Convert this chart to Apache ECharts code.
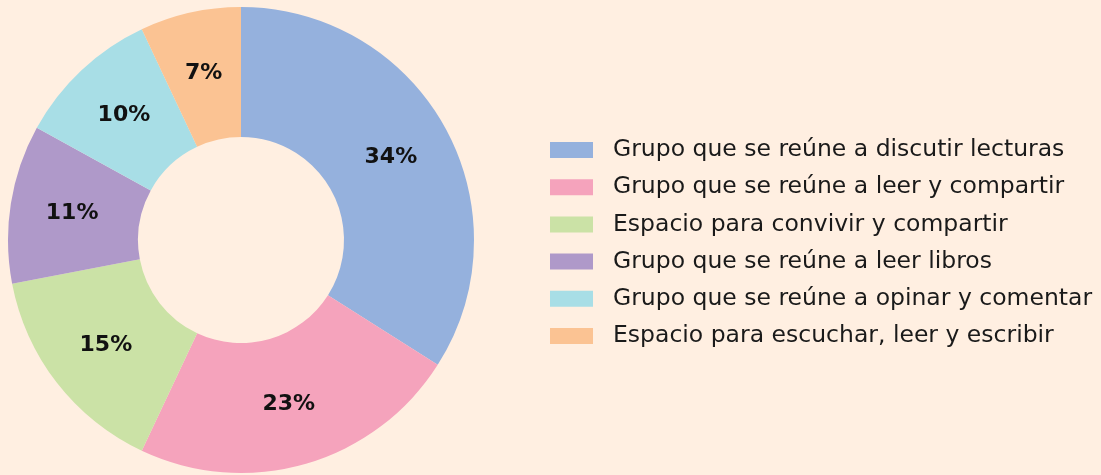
<!DOCTYPE html>
<html lang="es">
  <head>
    <meta charset="UTF-8" />
    <title>Donut</title>
    <script src="https://cdn.jsdelivr.net/npm/echarts@6.0.0/dist/echarts.min.js"></script>
    <style>
      html, body { margin: 0; padding: 0; background: #ffefe1; }
      #main { width: 1101px; height: 475px; }
    </style>
  </head>
  <body>
    <div id="main"></div>
    <script>
      // chart data
      let categories = [
        "Grupo que se reúne a discutir lecturas",
        "Grupo que se reúne a leer y compartir",
        "Espacio para convivir y compartir",
        "Grupo que se reúne a leer libros",
        "Grupo que se reúne a opinar y comentar",
        "Espacio para escuchar, leer y escribir",
      ];
      let values = [34, 23, 15, 11, 10, 7];
      let colors = ["#95b1dd", "#f5a3bc", "#cbe2a6", "#af99c9", "#a8dee6", "#fbc393"];

      let myChart = echarts.init(document.getElementById("main"));

      let options = {
        backgroundColor: "#ffefe1",
        animation: false,
        color: colors,
        legend: {
          orient: "vertical",
          left: 545,
          top: 133,
          itemWidth: 43,
          itemHeight: 16,
          itemGap: 13.2,
          icon: "rect",
          textStyle: {
            fontFamily: "DejaVu Sans",
            fontSize: 23.5,
            lineHeight: 22,
            color: "#1a1a1a",
            padding: [0, 0, 0, 15],
          },
          data: categories,
        },
        series: [
          {
            type: "pie",
            center: [241, 240],
            radius: [103, 233],
            startAngle: 90,
            clockwise: true,
            silent: true,
            label: {
              position: "inside",
              formatter: "{c}%",
              fontFamily: "DejaVu Sans",
              fontWeight: "bold",
              fontSize: 22,
              color: "#111",
            },
            labelLine: { show: false },
            itemStyle: { borderWidth: 0 },
            data: categories.map((name, i) => ({ name: name, value: values[i] })),
          },
        ],
      };

      myChart.setOption(options);
    </script>
  </body>
</html>
